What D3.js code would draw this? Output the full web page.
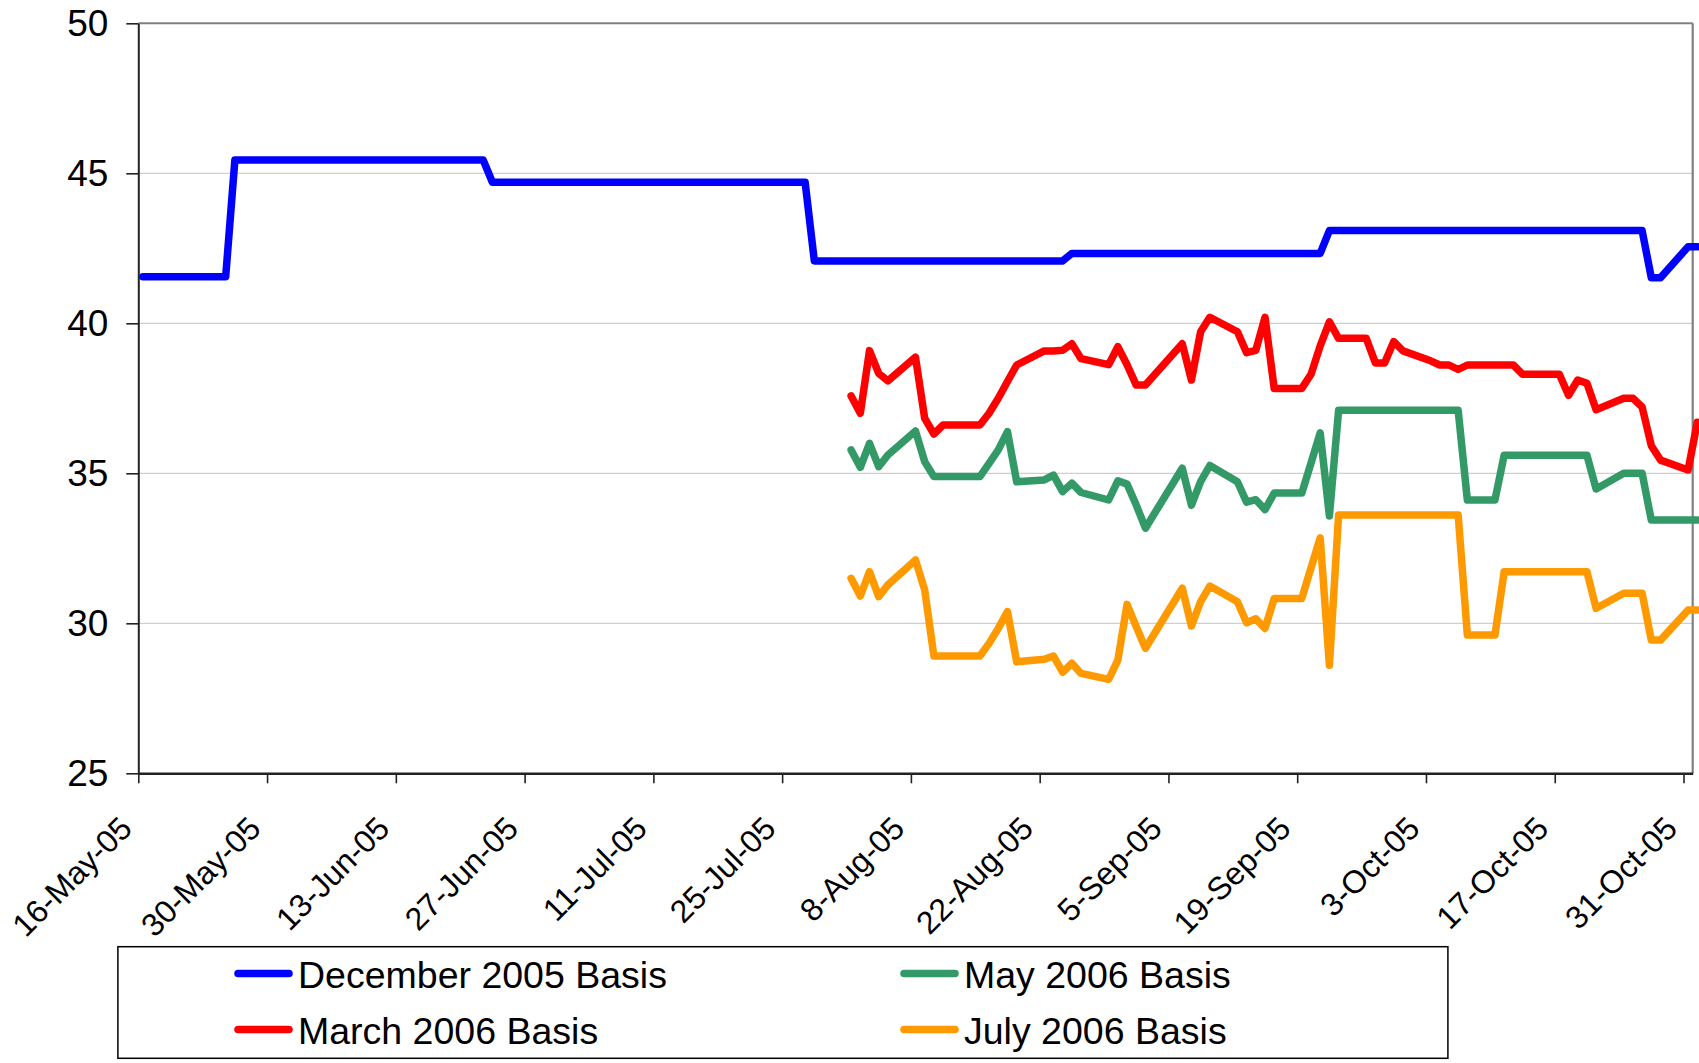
<!DOCTYPE html>
<html><head><meta charset="utf-8">
<script src="https://cdn.jsdelivr.net/npm/d3@7"></script>
<style>body{margin:0;background:#fff}svg{display:block}text{font-family:"Liberation Sans",Arial,sans-serif;fill:#000}</style>
</head><body><svg id="c" width="1699" height="1063"></svg>
<script>
// ---- data ----
const dates = [
"2005-05-16","2005-05-17","2005-05-18","2005-05-19","2005-05-20","2005-05-23","2005-05-24","2005-05-25","2005-05-26","2005-05-27","2005-05-31",
"2005-06-01","2005-06-02","2005-06-03","2005-06-06","2005-06-07","2005-06-08","2005-06-09","2005-06-10","2005-06-13","2005-06-14","2005-06-15","2005-06-16","2005-06-17","2005-06-20","2005-06-21","2005-06-22","2005-06-23","2005-06-24","2005-06-27","2005-06-28","2005-06-29","2005-06-30",
"2005-07-01","2005-07-05","2005-07-06","2005-07-07","2005-07-08","2005-07-11","2005-07-12","2005-07-13","2005-07-14","2005-07-15","2005-07-18","2005-07-19","2005-07-20","2005-07-21","2005-07-22","2005-07-25","2005-07-26","2005-07-27","2005-07-28","2005-07-29",
"2005-08-01","2005-08-02","2005-08-03","2005-08-04","2005-08-05","2005-08-08","2005-08-09","2005-08-10","2005-08-11","2005-08-12","2005-08-15","2005-08-16","2005-08-17","2005-08-18","2005-08-19","2005-08-22","2005-08-23","2005-08-24","2005-08-25","2005-08-26","2005-08-29","2005-08-30","2005-08-31",
"2005-09-01","2005-09-02","2005-09-06","2005-09-07","2005-09-08","2005-09-09","2005-09-12","2005-09-13","2005-09-14","2005-09-15","2005-09-16","2005-09-19","2005-09-20","2005-09-21","2005-09-22","2005-09-23","2005-09-26","2005-09-27","2005-09-28","2005-09-29","2005-09-30",
"2005-10-03","2005-10-04","2005-10-05","2005-10-06","2005-10-07","2005-10-10","2005-10-11","2005-10-12","2005-10-13","2005-10-14","2005-10-17","2005-10-18","2005-10-19","2005-10-20","2005-10-21","2005-10-24","2005-10-25","2005-10-26","2005-10-27","2005-10-28","2005-10-31",
"2005-11-01"];

const dec2005 = [
41.55,41.55,41.55,41.55,41.55,41.55,41.55,41.55,45.44,45.44,45.44,
45.44,45.44,45.44,45.44,45.44,45.44,45.44,45.44,45.44,45.44,45.44,45.44,45.44,45.44,45.44,45.44,44.7,44.7,44.7,44.7,44.7,44.7,
44.7,44.7,44.7,44.7,44.7,44.7,44.7,44.7,44.7,44.7,44.7,44.7,44.7,44.7,44.7,44.7,44.7,44.7,42.08,42.08,
42.08,42.08,42.08,42.08,42.08,42.08,42.08,42.08,42.08,42.08,42.08,42.08,42.08,42.08,42.08,42.08,42.08,42.08,42.33,42.33,42.33,42.33,42.33,
42.33,42.33,42.33,42.33,42.33,42.33,42.33,42.33,42.33,42.33,42.33,42.33,42.33,42.33,43.09,43.09,43.09,43.09,43.09,43.09,43.09,
43.09,43.09,43.09,43.09,43.09,43.09,43.09,43.09,43.09,43.09,43.09,43.09,43.09,43.09,43.09,43.09,43.09,43.09,41.52,41.52,42.55,
42.55];

const lateStart = "2005-08-01";
const mar2006 = [
37.58,37.0,39.09,38.33,38.08, 38.87,36.83,36.31,36.61,36.61, 36.61,37.0,37.5,38.06,38.61,
39.08,39.08,39.1,39.32,38.82, 38.62,39.22,38.62,37.94,37.94, 39.32,38.11,39.72,40.2,
39.72,39.02,39.1,40.2,37.83, 37.83,38.3,39.25,40.05,39.5, 39.5,38.68,38.68,39.39,39.08,
38.75,38.61,38.61,38.46,38.61, 38.61,38.61,38.61,38.3,38.3, 38.3,37.6,38.11,38.0,37.12,
37.5,37.5,37.21,35.92,35.44, 35.11,36.7];
const may2006 = [
35.78,35.2,36.0,35.22,35.61, 36.41,35.39,34.89,34.89,34.89, 34.89,35.33,35.78,36.39,34.72,
34.78,34.94,34.39,34.67,34.36, 34.11,34.75,34.64,33.94,33.17, 35.17,33.94,34.72,35.26,
34.72,34.04,34.12,33.79,34.34, 34.34,35.34,36.35,33.58,37.1, 37.1,37.1,37.1,37.1,37.1,
37.1,37.1,37.1,37.1,34.11, 34.11,35.6,35.6,35.6,35.6, 35.6,35.6,35.6,35.6,34.48,
35.0,35.0,35.0,33.44,33.44, 33.44,33.44];
const jul2006 = [
31.5,30.91,31.72,30.89,31.28, 32.11,31.11,28.91,28.91,28.91, 28.91,29.33,29.83,30.39,28.72,
28.8,28.91,28.37,28.67,28.33, 28.13,28.77,30.63,29.89,29.17, 31.17,29.91,30.72,31.24,
30.72,30.02,30.15,29.83,30.83, 30.83,31.85,32.85,28.6,33.61, 33.61,33.61,33.61,33.61,33.61,
33.61,33.61,33.61,33.61,29.61, 29.61,31.72,31.72,31.72,31.72, 31.72,31.72,31.72,31.72,30.5,
31.0,31.0,31.0,29.44,29.44, 30.44,30.44];

const seriesNames = ["December 2005 Basis","March 2006 Basis","May 2006 Basis","July 2006 Basis"];
const yTicks = [25,30,35,40,45,50];
const xTickLabels = ["16-May-05","30-May-05","13-Jun-05","27-Jun-05","11-Jul-05","25-Jul-05","8-Aug-05","22-Aug-05","5-Sep-05","19-Sep-05","3-Oct-05","17-Oct-05","31-Oct-05"];
const xDomain = ["16-May-05","1-Nov-05"];

// ---- styles ----
const colors = ["#0000FF","#FF0000","#339966","#FF9900"];

// ---- build ----
const svg = d3.select("#c");
svg.append("rect").attr("width",1699).attr("height",1063).attr("fill","#fff");
const L = 138.3, T = 23.3, R = 1692.7, B = 773.3;
const parseIso = d3.utcParse("%Y-%m-%d");
const parseLbl = d3.utcParse("%d-%b-%y");
const x = d3.scaleUtc().domain(xDomain.map(parseLbl)).range([L, R]);
const y = d3.scaleLinear().domain([25, 50]).range([B, T]);

const allDates = dates.map(parseIso);
const lateDates = allDates.slice(dates.indexOf(lateStart));
const seriesVals = [dec2005, mar2006, may2006, jul2006];
const seriesDates = [allDates, lateDates, lateDates, lateDates];

// gridlines
svg.append("g").selectAll("line").data(yTicks.filter(v => v > 25 && v < 50)).join("line")
  .attr("x1", L).attr("x2", R).attr("y1", d => y(d)).attr("y2", d => y(d))
  .attr("stroke", "#cfcfcf").attr("stroke-width", 1.2);
// top & right border
svg.append("line").attr("x1", L).attr("x2", R).attr("y1", y(50)).attr("y2", y(50)).attr("stroke", "#808080").attr("stroke-width", 2);
svg.append("line").attr("x1", R).attr("x2", R).attr("y1", T).attr("y2", B).attr("stroke", "#808080").attr("stroke-width", 2.2);

// y axis
const ya = svg.append("g").attr("transform", `translate(${L},0)`)
  .call(d3.axisLeft(y).tickValues(yTicks).tickSize(12).tickPadding(18).tickSizeOuter(0));
ya.select(".domain").attr("stroke", "#222").attr("stroke-width", 2);
ya.selectAll(".tick line").attr("stroke", "#222").attr("stroke-width", 1.6);
ya.selectAll("text").attr("font-size", 37).attr("fill", "#000").attr("font-family", "Liberation Sans, Arial, sans-serif");

// x axis
const xa = svg.append("g").attr("transform", `translate(0,${B})`)
  .call(d3.axisBottom(x).tickValues(xTickLabels.map(parseLbl)).tickSize(10).tickSizeOuter(0).tickFormat(d3.utcFormat("%-d-%b-%y")));
xa.select(".domain").attr("stroke", "#222").attr("stroke-width", 2.4);
xa.selectAll(".tick line").attr("stroke", "#222").attr("stroke-width", 1.6);
xa.selectAll("text").attr("font-size", 32).attr("fill", "#000").attr("font-family", "Liberation Sans, Arial, sans-serif")
  .attr("x", 0).attr("y", 0).attr("dy", 0)
  .attr("transform", "translate(-5,57) rotate(-45)").style("text-anchor", "end");

// lines
const line = d3.line().x(d => x(d3.utcHour.offset(d[0], 12))).y(d => y(d[1])).curve(d3.curveLinear);
seriesVals.forEach((vals, i) => {
  const pts = vals.map((v, j) => [seriesDates[i][j], v]);
  svg.append("path").datum(pts).attr("d", line)
    .attr("fill", "none").attr("stroke", colors[i]).attr("stroke-width", 7.5)
    .attr("stroke-linejoin", "round").attr("stroke-linecap", "round");
});

// legend
const lg = svg.append("g");
lg.append("rect").attr("x", 117.9).attr("y", 946.7).attr("width", 1330).attr("height", 111.6)
  .attr("fill", "#fff").attr("stroke", "#000").attr("stroke-width", 1.5);
const legPos = [[238, 973.5], [238, 1029.5], [904, 973.5], [904, 1029.5]];
seriesNames.forEach((name, i) => {
  const [lx, ly] = legPos[i];
  lg.append("line").attr("x1", lx).attr("x2", lx + 51).attr("y1", ly).attr("y2", ly)
    .attr("stroke", colors[i]).attr("stroke-width", 7.5).attr("stroke-linecap", "round");
  lg.append("text").attr("x", lx + 60).attr("y", ly + 14).attr("font-size", 37.5).text(name);
});
</script></body></html>
